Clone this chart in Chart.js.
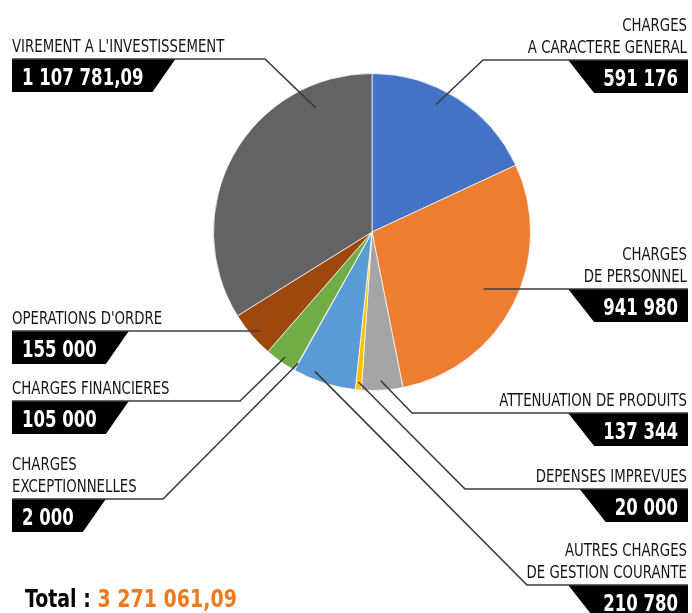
<!DOCTYPE html>
<html>
<head>
<meta charset="utf-8">
<script src="https://cdn.jsdelivr.net/npm/chart.js@4.4.1/dist/chart.umd.min.js"></script>
<style>
  html, body { margin: 0; padding: 0; background: #fff; }
  #wrap { width: 692px; height: 613px; position: relative; }
</style>
</head>
<body>
<div id="wrap"><canvas id="pie"></canvas></div>
<script>
// data
const categories = [
  'CHARGES\nA CARACTERE GENERAL',
  'CHARGES\nDE PERSONNEL',
  'ATTENUATION DE PRODUITS',
  'DEPENSES IMPREVUES',
  'AUTRES CHARGES\nDE GESTION COURANTE',
  'CHARGES\nEXCEPTIONNELLES',
  'CHARGES FINANCIERES',
  "OPERATIONS D'ORDRE",
  "VIREMENT A L'INVESTISSEMENT"
];
const amounts = [591176, 941980, 137344, 20000, 210780, 2000, 105000, 155000, 1107781.09];
const sliceColors = ['#4472c4', '#ed7d31', '#a5a5a5', '#ffc000', '#5b9bd5', '#264478', '#70ad47', '#9e480e', '#636363'];

// where each callout sits (t = position inside the slice, r = fraction of radius)
const callouts = [
  { side: 'right', lineY: 60,  elbowX: 483, t: 0.41, r: 0.90 },
  { side: 'right', lineY: 289, elbowX: null, t: 0.50, r: 0.79 },
  { side: 'right', lineY: 413, elbowX: 412, t: 0.52, r: 0.94 },
  { side: 'right', lineY: 489, elbowX: 465, t: 0.60, r: 0.95 },
  { side: 'right', lineY: 585, elbowX: 527, t: 0.70, r: 0.95 },
  { side: 'left',  lineY: 499, elbowX: 163, t: 0.50, r: 0.95 },
  { side: 'left',  lineY: 401, elbowX: 240, t: 0.46, r: 0.96 },
  { side: 'left',  lineY: 331, elbowX: null, t: 0.46, r: 0.94 },
  { side: 'left',  lineY: 59,  elbowX: 265, t: 0.80, r: 0.86 }
];

const narrow = "'Liberation Sans Narrow', 'DejaVu Sans Condensed', 'Arial Narrow', sans-serif";

function fmt(v) {
  const parts = v.toFixed(2).split('.');
  const int = parts[0].replace(/\B(?=(\d{3})+(?!\d))/g, ' ');
  return parts[1] === '00' ? int : int + ',' + parts[1];
}

// draw text squeezed horizontally, returns drawn width
function squeezed(ctx, text, x, y, align, sx) {
  const w = ctx.measureText(text).width * sx;
  const x0 = align === 'right' ? x - w : x;
  ctx.save();
  ctx.translate(x0, y);
  ctx.scale(sx, 1);
  ctx.textAlign = 'left';
  ctx.fillText(text, 0, 0);
  ctx.restore();
  return w;
}

const calloutPlugin = {
  id: 'callouts',
  afterDraw(chart) {
    const ctx = chart.ctx;
    const meta = chart.getDatasetMeta(0);
    ctx.save();
    ctx.textBaseline = 'alphabetic';
    meta.data.forEach((arc, i) => {
      const c = callouts[i];
      const a = arc.startAngle + c.t * (arc.endAngle - arc.startAngle);
      const px = arc.x + Math.cos(a) * arc.outerRadius * c.r;
      const py = arc.y + Math.sin(a) * arc.outerRadius * c.r;
      const y = c.lineY;
      const left = c.side === 'left';
      const edge = left ? 12 : 688;
      const value = fmt(amounts[i]);

      // value box
      ctx.font = 'bold 23px ' + narrow;
      const vsx = 0.8;
      const tw = ctx.measureText(value).width * vsx;
      ctx.fillStyle = '#000';
      ctx.beginPath();
      if (left) {
        const te = 22 + tw;
        ctx.moveTo(edge, y); ctx.lineTo(te + 32, y); ctx.lineTo(te + 9, y + 33); ctx.lineTo(edge, y + 33);
      } else {
        const ts = 678 - tw;
        ctx.moveTo(edge, y); ctx.lineTo(ts - 35, y); ctx.lineTo(ts - 9, y + 33); ctx.lineTo(edge, y + 33);
      }
      ctx.closePath();
      ctx.fill();
      ctx.fillStyle = '#fff';
      squeezed(ctx, value, left ? 22 : 678, y + 26, left ? 'left' : 'right', vsx);

      // leader line
      ctx.strokeStyle = '#3c3c3c';
      ctx.lineWidth = 1.6;
      ctx.beginPath();
      ctx.moveTo(edge, y);
      if (c.elbowX !== null) {
        ctx.lineTo(c.elbowX, y);
        ctx.lineTo(px, py);
      } else {
        ctx.lineTo(px, y);
      }
      ctx.stroke();

      // category text
      ctx.font = '17px ' + narrow;
      ctx.fillStyle = '#161616';
      const lines = categories[i].split('\n');
      lines.forEach((ln, k) => {
        const by = y - 7 - (lines.length - 1 - k) * 22;
        squeezed(ctx, ln, left ? 12 : 687, by, left ? 'left' : 'right', 0.87);
      });
    });

    // total
    const total = amounts.reduce((s, v) => s + v, 0);
    ctx.font = 'bold 24px ' + narrow;
    ctx.fillStyle = '#000';
    const w = squeezed(ctx, 'Total : ', 25, 607, 'left', 0.88);
    ctx.fillStyle = '#ef7a1c';
    squeezed(ctx, fmt(total), 25 + w, 607, 'left', 0.88);
    ctx.restore();
  }
};

new Chart(document.getElementById('pie'), {
  type: 'pie',
  data: {
    labels: categories,
    datasets: [{
      data: amounts,
      backgroundColor: sliceColors,
      borderColor: 'rgba(255,255,255,0.7)',
      borderWidth: 1
    }]
  },
  options: {
    responsive: true,
    maintainAspectRatio: false,
    animation: false,
    layout: { padding: { left: 213, top: 73, right: 161, bottom: 222 } },
    plugins: { legend: { display: false }, tooltip: { enabled: false } }
  },
  plugins: [calloutPlugin]
});
</script>
</body>
</html>
